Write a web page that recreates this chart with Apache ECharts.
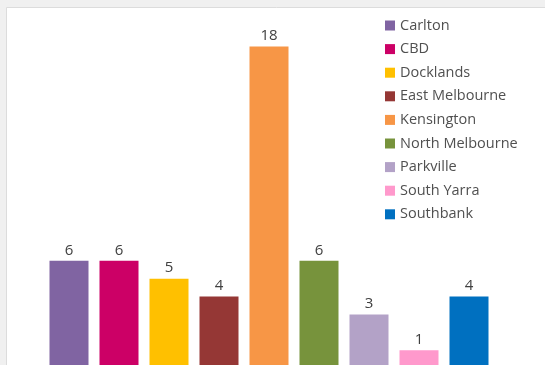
<!DOCTYPE html>
<html><head><meta charset="utf-8">
<script src="https://cdn.jsdelivr.net/npm/echarts@6/dist/echarts.min.js"></script>
<style>html,body{margin:0;padding:0;overflow:hidden;background:#f0f0f0;width:545px;height:365px}#c{width:545px;height:368px}</style>
</head><body><div id="c"></div>
<script>
const categories = ["Carlton","CBD","Docklands","East Melbourne","Kensington","North Melbourne","Parkville","South Yarra","Southbank"];
const values = [6,6,5,4,18,6,3,1,4];
const colors = ["#8064A2","#CC0066","#FFC000","#953735","#F79646","#77933C","#B3A2C7","#FF99CC","#0070C0"];
const yMax = 18;

const chart = echarts.init(document.getElementById('c'), null, {renderer:'canvas'});
const series = categories.map((name, i) => ({
  name: name,
  type: 'bar',
  barWidth: 39,
  barGap: '-100%',
  itemStyle: {color: colors[i]},
  label: {show: true, position: 'top', distance: 3, color: '#404040', fontSize: 15, fontFamily: 'Open Sans'},
  data: categories.map((c, j) => j === i ? values[i] : '-')
}));
chart.setOption({
  animation: false,
  backgroundColor: '#f0f0f0',
  graphic: [{type:'rect', z:-10, silent:true, shape:{x:6.5,y:7.5,width:600,height:400}, style:{fill:'#ffffff', stroke:'#dcdcdc', lineWidth:1}}],
  grid: {left: 44, right: 51, top: 46.5, bottom: 0},
  xAxis: {type:'category', data: categories, show:false},
  yAxis: {type:'value', min:0, max:yMax, show:false, splitLine:{show:false}},
  legend: {
    orient:'vertical', left:385, top:17.5, padding:0, icon:'rect', itemWidth:10, itemHeight:10, itemGap:7.6,
    textStyle:{color:'#505050', fontSize:14.5, lineHeight:16, fontFamily:'Open Sans'},
    data: categories
  },
  series: series
});
</script></body></html>
